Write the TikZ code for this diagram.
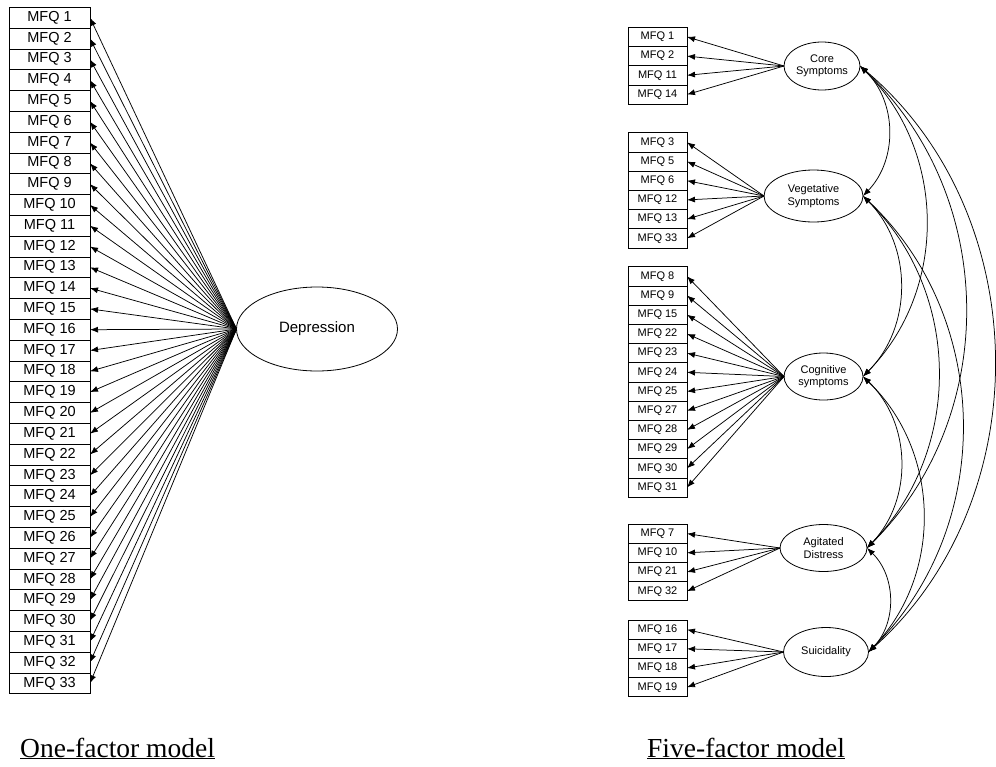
\documentclass[tikz,border=0pt]{standalone}
\usepackage{fontspec}
\setmainfont{Liberation Serif}
\setsansfont{Liberation Sans}
\usetikzlibrary{positioning,arrows.meta,shapes.geometric}

\tikzset{
  item/.style={draw, line width=0.8pt, outer sep=0pt, inner sep=0pt,
    minimum width=81pt, minimum height=20.8pt,
    font=\sffamily\fontsize{14.5}{15}\selectfont},
  sitem/.style={item, minimum width=59pt, minimum height=19.2pt,
    font=\sffamily\fontsize{11}{12}\selectfont},
  factor/.style={draw, ellipse, line width=0.8pt, outer sep=0pt, inner sep=0pt,
    align=center, font=\sffamily\fontsize{11}{12.5}\selectfont},
  load/.style={line width=0.75pt, -{Latex[length=8pt,width=6pt]}},
  cov/.style={line width=0.75pt, {Latex[length=8pt,width=6pt]}-{Latex[length=8pt,width=6pt]}},
  caption/.style={font=\fontsize{27.5}{28}\selectfont, anchor=base west, inner sep=0pt}
}

\begin{document}
\begin{tikzpicture}[x=1pt, y=-1pt]
  \useasboundingbox (0,0) rectangle (996,766);

  % one-factor model
  \node[factor, minimum width=161pt, minimum height=84pt,
        font=\sffamily\fontsize{15}{15}\selectfont] (dep) at (317,329) {Depression};
  \foreach \i in {1,...,33} {
    \node[item] (m\i) at (49.5, {7.3+20.8*(\i-0.5)}) {MFQ \i};
    \draw[load] (dep.west) -- (m\i.east);
  }
  \node[caption] (cap1) at (20,757) {\underline{One-factor model}};

  % five-factor model
  \node[factor, minimum width=76pt, minimum height=48pt] (core) at (822,66) {Core\\Symptoms};
  \node[factor, minimum width=99pt, minimum height=52pt] (veg) at (813.5,196) {Vegetative\\Symptoms};
  \node[factor, minimum width=79pt, minimum height=47pt] (cog) at (823.5,376.5) {Cognitive\\symptoms};
  \node[factor, minimum width=87pt, minimum height=47pt] (agit) at (823.5,548) {Agitated\\Distress};
  \node[factor, minimum width=85pt, minimum height=49pt] (suic) at (826,652) {Suicidality};

  \foreach \f/\t/\l in {core/27.3/{1,2,11,14},
                        veg/132.7/{3,5,6,12,13,33},
                        cog/266.7/{8,9,15,22,23,24,25,27,28,29,30,31},
                        agit/524/{7,10,21,32},
                        suic/620/{16,17,18,19}} {
    \foreach \n [count=\k] in \l {
      \node[sitem] (\f\k) at (657.5, {\t+19.2*(\k-0.5)}) {MFQ \n};
      \draw[load] (\f.west) -- (\f\k.east);
    }
  }

  % covariances
  \foreach \a/\b/\ang in {core/veg/45, core/cog/45, core/agit/46, core/suic/49,
                          veg/cog/45, veg/agit/45, veg/suic/46,
                          cog/agit/45, cog/suic/45, agit/suic/45}
    \draw[cov] (\a.east) to[bend left=\ang] (\b.east);

  \node[caption] (cap2) at (647,757) {\underline{Five-factor model}};
\end{tikzpicture}
\end{document}
